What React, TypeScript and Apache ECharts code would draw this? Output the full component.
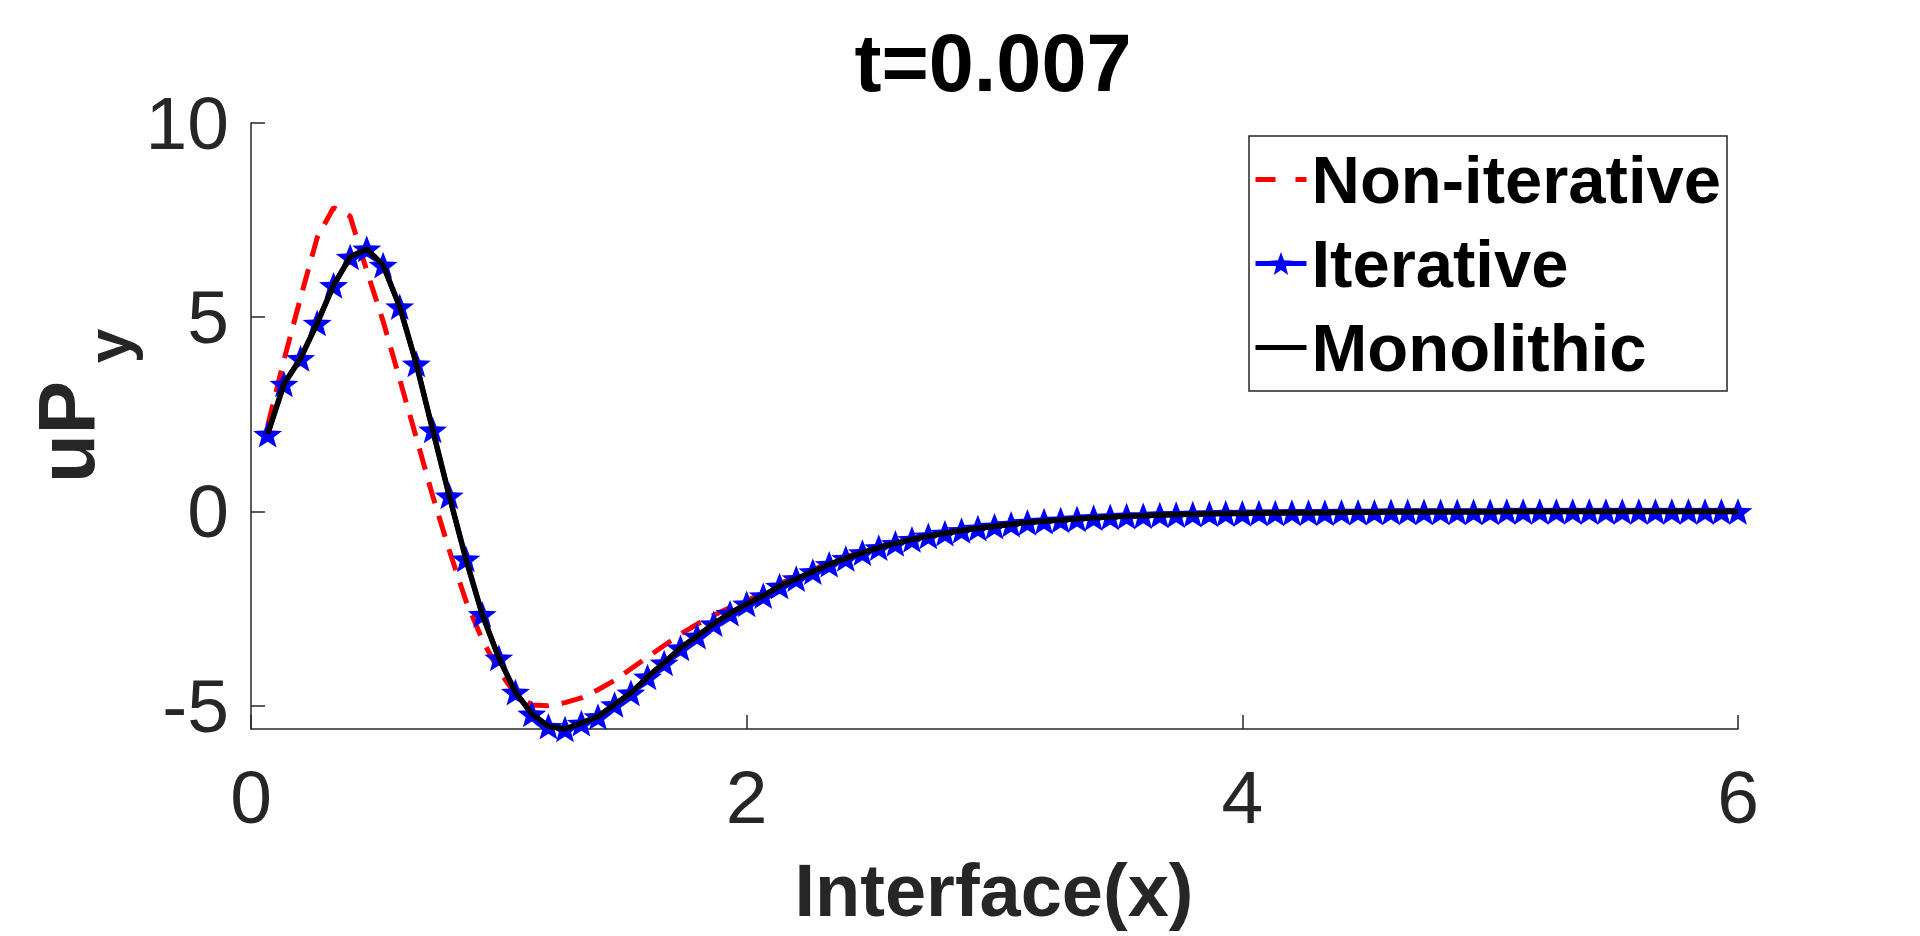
import React, { useEffect, useRef } from "react";
import * as echarts from "echarts";

const FONT = "'Liberation Sans', Arial, Helvetica, sans-serif";

const xs = [
  0.067, 0.133, 0.2, 0.267, 0.333, 0.4, 0.467, 0.533, 0.6, 0.667,
  0.733, 0.8, 0.867, 0.933, 1.0, 1.067, 1.133, 1.2, 1.267, 1.333,
  1.4, 1.467, 1.533, 1.6, 1.667, 1.733, 1.8, 1.867, 1.933, 2.0,
  2.067, 2.133, 2.2, 2.267, 2.333, 2.4, 2.467, 2.533, 2.6, 2.667,
  2.733, 2.8, 2.867, 2.933, 3.0, 3.067, 3.133, 3.2, 3.267, 3.333,
  3.4, 3.467, 3.533, 3.6, 3.667, 3.733, 3.8, 3.867, 3.933, 4.0,
  4.067, 4.133, 4.2, 4.267, 4.333, 4.4, 4.467, 4.533, 4.6, 4.667,
  4.733, 4.8, 4.867, 4.933, 5.0, 5.067, 5.133, 5.2, 5.267, 5.333,
  5.4, 5.467, 5.533, 5.6, 5.667, 5.733, 5.8, 5.867, 5.933, 6.0,
];

const monolithic = [
  1.99, 3.28, 3.94, 4.85, 5.82, 6.55, 6.76, 6.34, 5.27, 3.8,
  2.1, 0.4, -1.22, -2.65, -3.77, -4.65, -5.21, -5.53, -5.6, -5.45,
  -5.28, -4.97, -4.67, -4.26, -3.9, -3.51, -3.21, -2.89, -2.62, -2.38,
  -2.17, -1.92, -1.73, -1.55, -1.36, -1.21, -1.06, -0.93, -0.82, -0.72,
  -0.63, -0.56, -0.49, -0.43, -0.38, -0.33, -0.28, -0.25, -0.22, -0.19,
  -0.16, -0.14, -0.12, -0.11, -0.09, -0.08, -0.07, -0.06, -0.05, -0.05,
  -0.04, -0.04, -0.03, -0.03, -0.03, -0.02, -0.02, -0.02, -0.01, -0.01,
  -0.01, -0.01, -0.01, -0.01, -0.01, 0, 0, 0, 0, 0,
  0, 0, 0, 0, 0, 0, 0, 0, 0, 0,
];

const iterative = [
  1.99, 3.28, 3.94, 4.85, 5.82, 6.55, 6.76, 6.34, 5.27, 3.8,
  2.1, 0.4, -1.22, -2.65, -3.77, -4.65, -5.21, -5.53, -5.6, -5.45,
  -5.28, -4.97, -4.67, -4.26, -3.9, -3.51, -3.21, -2.89, -2.62, -2.38,
  -2.17, -1.92, -1.73, -1.55, -1.36, -1.21, -1.06, -0.93, -0.82, -0.72,
  -0.63, -0.56, -0.49, -0.43, -0.38, -0.33, -0.28, -0.25, -0.22, -0.19,
  -0.16, -0.14, -0.12, -0.11, -0.09, -0.08, -0.07, -0.06, -0.05, -0.05,
  -0.04, -0.04, -0.03, -0.03, -0.03, -0.02, -0.02, -0.02, -0.01, -0.01,
  -0.01, -0.01, -0.01, -0.01, -0.01, 0, 0, 0, 0, 0,
  0, 0, 0, 0, 0, 0, 0, 0, 0, 0,
];

const nonIterative = [
  2.2, 3.9, 5.5, 7.05, 7.82, 7.6, 6.2, 4.9, 3.4, 1.9,
  0.4, -1.0, -2.3, -3.3, -4.1, -4.7, -4.98, -5.0, -4.92, -4.8,
  -4.59, -4.35, -4.05, -3.75, -3.45, -3.16, -2.9, -2.67, -2.47, -2.3,
  -2.1, -1.86, -1.68, -1.5, -1.32, -1.17, -1.03, -0.9, -0.79, -0.69,
  -0.61, -0.54, -0.47, -0.41, -0.36, -0.31, -0.27, -0.24, -0.21, -0.18,
  -0.16, -0.14, -0.12, -0.11, -0.09, -0.08, -0.07, -0.06, -0.05, -0.05,
  -0.04, -0.04, -0.03, -0.03, -0.03, -0.02, -0.02, -0.02, -0.01, -0.01,
  -0.01, -0.01, -0.01, -0.01, -0.01, 0, 0, 0, 0, 0,
  0, 0, 0, 0, 0, 0, 0, 0, 0, 0,
];

const seriesNames = ["Non-iterative", "Iterative", "Monolithic"];
const titleText = "t=0.007";
const xAxisTitle = "Interface(x)";

const STAR =
  "path://M0,-1 L0.247,-0.34 L0.951,-0.309 L0.4,0.13 L0.588,0.809 L0,0.42 L-0.588,0.809 L-0.4,0.13 L-0.951,-0.309 L-0.247,-0.34 Z";
const DASH_ICON = "path://M0,0H20V5H0Z M40,0H51V5H40Z";
const LINE_ICON = "path://M0,0H51V5H0Z";

const pairs = (ys: number[]) => xs.map((x, i) => [x, ys[i]]);

export default function App() {
  const ref = useRef<HTMLDivElement>(null);

  useEffect(() => {
    if (!ref.current) return;
    const chart = echarts.init(ref.current, undefined, { renderer: "svg" });
    const axisColor = "#262626";
    chart.setOption({
      animation: false,
      backgroundColor: "#ffffff",
      grid: { left: 251, top: 123, width: 1487, height: 606 },
      xAxis: {
        type: "value",
        min: 0,
        max: 6,
        interval: 2,
        axisLine: { onZero: false, lineStyle: { color: axisColor, width: 1.5 } },
        axisTick: { inside: true, length: 14, lineStyle: { color: axisColor, width: 1.5 } },
        axisLabel: {
          margin: 30,
          fontSize: 75,
          color: axisColor,
          fontFamily: FONT,
        },
        splitLine: { show: false },
      },
      yAxis: {
        type: "value",
        min: -5.6,
        max: 10,
        splitNumber: 3,
        minInterval: 5,
        maxInterval: 5,
        axisLine: { show: true, onZero: false, lineStyle: { color: axisColor, width: 1.5 } },
        axisTick: { show: true, inside: true, length: 14, lineStyle: { color: axisColor, width: 1.5 } },
        axisLabel: {
          margin: 22,
          fontSize: 75,
          color: axisColor,
          fontFamily: FONT,
          showMinLabel: false,
        },
        splitLine: { show: false },
      },
      legend: {
        orient: "vertical",
        left: 1249,
        top: 136,
        padding: [10, 6, 10, 4],
        itemGap: 17,
        itemWidth: 51,
        itemHeight: 29,
        borderColor: axisColor,
        borderWidth: 1.5,
        backgroundColor: "#ffffff",
        data: [
          { name: seriesNames[0], icon: DASH_ICON, itemStyle: { color: "#FF0000", borderWidth: 0 } },
          { name: seriesNames[1] },
          { name: seriesNames[2], icon: LINE_ICON, itemStyle: { color: "#000000", borderWidth: 0 } },
        ],
        textStyle: {
          fontSize: 67,
          fontWeight: "bold",
          color: "#000000",
          fontFamily: FONT,
        },
        lineStyle: { width: 5 },
      },
      series: [
        {
          name: seriesNames[0],
          type: "line",
          data: pairs(nonIterative),
          symbol: "none",
          lineStyle: { color: "#FF0000", width: 5, type: [22, 13] },
          itemStyle: { color: "#FF0000" },
          z: 2,
        },
        {
          name: seriesNames[1],
          type: "line",
          data: pairs(iterative),
          symbol: STAR,
          symbolSize: [29, 28],
          symbolKeepAspect: true,
          lineStyle: { color: "#0000FF", width: 5 },
          itemStyle: { color: "#0000FF" },
          z: 3,
        },
        {
          name: seriesNames[2],
          type: "line",
          data: pairs(monolithic),
          symbol: "none",
          lineStyle: { color: "#000000", width: 5.5 },
          itemStyle: { color: "#000000" },
          z: 4,
        },
      ],
      graphic: [
        {
          type: "text",
          x: 993,
          y: 63,
          style: {
            text: titleText,
            fontSize: 81,
            fontWeight: "bold",
            fontFamily: FONT,
            fill: "#000000",
            textAlign: "center",
            textVerticalAlign: "middle",
          },
        },
        {
          type: "text",
          x: 994,
          y: 890,
          style: {
            text: xAxisTitle,
            fontSize: 74,
            fontWeight: "bold",
            fontFamily: FONT,
            fill: axisColor,
            textAlign: "center",
            textVerticalAlign: "middle",
          },
        },
        {
          type: "text",
          x: 66,
          y: 432,
          rotation: Math.PI / 2,
          style: {
            text: "uP",
            fontSize: 80,
            fontWeight: "bold",
            fontFamily: FONT,
            fill: axisColor,
            textAlign: "center",
            textVerticalAlign: "middle",
          },
        },
        {
          type: "text",
          x: 108,
          y: 346,
          rotation: Math.PI / 2,
          style: {
            text: "y",
            fontSize: 62,
            fontWeight: "bold",
            fontFamily: FONT,
            fill: axisColor,
            textAlign: "center",
            textVerticalAlign: "middle",
          },
        },
      ],
    });
    return () => chart.dispose();
  }, []);

  return (
    <div
      ref={ref}
      style={{ position: "fixed", left: 0, top: 0, width: 1920, height: 936, background: "#fff" }}
    />
  );
}
